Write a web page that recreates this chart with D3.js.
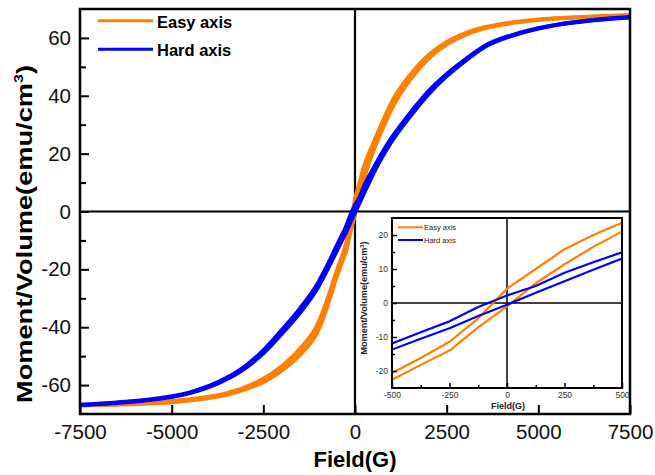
<!DOCTYPE html>
<html>
<head>
<meta charset="utf-8">
<script src="https://cdn.jsdelivr.net/npm/d3@7"></script>
<style>
  body { margin: 0; background: #fff; }
  svg text { font-family: "Liberation Sans", Arial, sans-serif; }
</style>
</head>
<body>
<div id="chart"></div>
<script>
// field values (G) shared by both loops
const fieldG = [-7500, -6500, -5500, -4500, -3500, -3000, -2500, -2000, -1500, -1000, -750,
  -500, -375, -250, -125, 0, 125, 250, 375, 500, 750, 1000, 1500, 2000, 2500, 3000, 3500,
  4500, 5500, 6500, 7500];

// descending branch (upper) and ascending branch (lower), emu/cm3
const easyUp = [-66.9, -66.6, -66.0, -64.9, -62.8, -60.8, -57.8, -53.5, -47.5, -38.5, -30.2,
  -20.6, -16.2, -11.4, -4.5, 4.2, 10, 15.8, 20, 23.6, 31, 37.8, 47.2, 54, 58.6, 61.6, 63.6,
  65.7, 66.8, 67.4, 67.8];
const easyDown = [-67.1, -66.8, -66.3, -65.3, -63.4, -61.5, -59, -55, -49.5, -41, -32.6,
  -22.6, -18.2, -14, -7.2, -1, 5.8, 11.4, 16.5, 21, 28.5, 35.5, 45.5, 52.8, 57.8, 61, 63.2,
  65.5, 66.7, 67.3, 67.8];
const hardUp = [-66.8, -66.0, -64.8, -62.5, -57.5, -53.5, -48, -41, -33.5, -24.5, -18.5,
  -11.9, -8.6, -5.4, -1.2, 2.2, 5, 8.9, 12, 14.9, 20.5, 25.5, 34, 41.5, 47.5, 52.5, 57,
  61.8, 64.6, 66.2, 67.2];
const hardDown = [-66.9, -66.2, -65.0, -62.8, -58, -54.2, -49, -42.3, -35, -26, -20,
  -13.7, -10.5, -7.4, -3.8, -0.5, 3, 6.4, 9.8, 13.1, 19, 24.2, 32.8, 40.5, 46.8, 52, 56.6,
  61.6, 64.5, 66.1, 67.1];

const seriesNames = ['Easy axis', 'Hard axis'];
const seriesColors = ['#ff8000', '#0000ff'];

const xTicks = [-7500, -5000, -2500, 0, 2500, 5000, 7500];
const yTicks = [-60, -40, -20, 0, 20, 40, 60];
const yMinor = [-50, -30, -10, 10, 30, 50];
const insetXTicks = [-500, -250, 0, 250, 500];
const insetXMinor = [-375, -125, 125, 375];
const insetYTicks = [-20, -10, 0, 10, 20];
const insetYMinor = [-15, -5, 5, 15];

// each branch as [H, M] pairs, with the series index kept for colour
const branches = [
  { s: 0, v: easyUp }, { s: 0, v: easyDown },
  { s: 1, v: hardUp }, { s: 1, v: hardDown }
].map(b => ({ s: b.s, pts: fieldG.map((h, i) => [h, b.v[i]]) }));

const svg = d3.select('#chart').append('svg')
  .attr('width', 655).attr('height', 475);

const fmt = d => String(d);

// ---------- main plot ----------
const x = d3.scaleLinear().domain([-7500, 7500]).range([80, 630]);
const y = d3.scaleLinear().domain([-70, 70]).range([414, 9]);

svg.append('clipPath').attr('id', 'clipMain')
  .append('rect').attr('x', 80).attr('y', 9).attr('width', 550).attr('height', 405);

svg.append('line').attr('x1', 80).attr('x2', 630).attr('y1', y(0)).attr('y2', y(0))
  .attr('stroke', '#000').attr('stroke-width', 2.2);
svg.append('line').attr('x1', x(0)).attr('x2', x(0)).attr('y1', 9).attr('y2', 414)
  .attr('stroke', '#000').attr('stroke-width', 2.2);

const line = d3.line().x(d => x(d[0])).y(d => y(d[1])).curve(d3.curveMonotoneX);
svg.append('g').attr('clip-path', 'url(#clipMain)')
  .selectAll('path').data(branches).enter().append('path')
  .attr('d', d => line(d.pts))
  .attr('fill', 'none')
  .attr('stroke', d => seriesColors[d.s])
  .attr('stroke-width', 4)
  .attr('stroke-linejoin', 'round');

const gx = svg.append('g').attr('transform', 'translate(0,414)')
  .call(d3.axisBottom(x).tickValues(xTicks).tickFormat(fmt).tickSize(-9).tickPadding(10));
const gy = svg.append('g').attr('transform', 'translate(80,0)')
  .call(d3.axisLeft(y).tickValues(yTicks).tickFormat(fmt).tickSize(-9).tickPadding(9));
const gym = svg.append('g').attr('transform', 'translate(80,0)')
  .call(d3.axisLeft(y).tickValues(yMinor).tickFormat('').tickSize(-6));
[gx, gy, gym].forEach(g => {
  g.select('.domain').remove();
  g.selectAll('.tick line').attr('stroke', '#000').attr('stroke-width', 2);
  g.selectAll('.tick text').style('font-size', '20.5px').attr('fill', '#111');
});

svg.append('rect').attr('x', 80).attr('y', 9).attr('width', 550).attr('height', 405)
  .attr('fill', 'none').attr('stroke', '#000').attr('stroke-width', 2.5);

svg.append('text').attr('x', 355).attr('y', 467).attr('text-anchor', 'middle')
  .style('font-size', '22px').style('font-weight', 'bold').text('Field(G)');

const yt = svg.append('text').attr('transform', 'translate(32,234) rotate(-90)')
  .attr('text-anchor', 'middle')
  .attr('textLength', 338).attr('lengthAdjust', 'spacingAndGlyphs')
  .style('font-size', '22px').style('font-weight', 'bold');
yt.append('tspan').text('Moment/Volume(emu/cm');
yt.append('tspan').attr('dy', -9).style('font-size', '13px').text('3');
yt.append('tspan').attr('dy', 9).text(')');

// main legend
seriesNames.forEach((name, i) => {
  const ly = 20.7 + i * 28.6;
  svg.append('line').attr('x1', 98).attr('x2', 153).attr('y1', ly).attr('y2', ly)
    .attr('stroke', seriesColors[i]).attr('stroke-width', 3);
  svg.append('text').attr('x', 157).attr('y', ly + 7).style('font-size', '16.5px')
    .style('font-weight', 'bold').text(name);
});

// ---------- inset ----------
const xi = d3.scaleLinear().domain([-500, 500]).range([392, 622]);
const yi = d3.scaleLinear().domain([-25, 25]).range([388, 218]);

svg.append('rect').attr('x', 392).attr('y', 218).attr('width', 230).attr('height', 170)
  .attr('fill', '#fff');
svg.append('clipPath').attr('id', 'clipInset')
  .append('rect').attr('x', 392).attr('y', 218).attr('width', 230).attr('height', 170);

svg.append('line').attr('x1', 392).attr('x2', 622).attr('y1', yi(0)).attr('y2', yi(0))
  .attr('stroke', '#000').attr('stroke-width', 1.5);
svg.append('line').attr('x1', xi(0)).attr('x2', xi(0)).attr('y1', 218).attr('y2', 388)
  .attr('stroke', '#000').attr('stroke-width', 1.5);

const lineI = d3.line().x(d => xi(d[0])).y(d => yi(d[1]));
svg.append('g').attr('clip-path', 'url(#clipInset)')
  .selectAll('path').data(branches).enter().append('path')
  .attr('d', d => lineI(d.pts))
  .attr('fill', 'none')
  .attr('stroke', d => seriesColors[d.s])
  .attr('stroke-width', 2.2)
  .attr('stroke-linejoin', 'round');

const ix = svg.append('g').attr('transform', 'translate(0,388)')
  .call(d3.axisBottom(xi).tickValues(insetXTicks).tickFormat(fmt).tickSize(-5).tickPadding(4));
const ixm = svg.append('g').attr('transform', 'translate(0,388)')
  .call(d3.axisBottom(xi).tickValues(insetXMinor).tickFormat('').tickSize(-3));
const iy = svg.append('g').attr('transform', 'translate(392,0)')
  .call(d3.axisLeft(yi).tickValues(insetYTicks).tickFormat(fmt).tickSize(-5).tickPadding(4));
const iym = svg.append('g').attr('transform', 'translate(392,0)')
  .call(d3.axisLeft(yi).tickValues(insetYMinor).tickFormat('').tickSize(-3));
[ix, ixm, iy, iym].forEach(g => {
  g.select('.domain').remove();
  g.selectAll('.tick line').attr('stroke', '#000').attr('stroke-width', 1.5);
  g.selectAll('.tick text').style('font-size', '8.5px').attr('fill', '#333');
});

svg.append('rect').attr('x', 392).attr('y', 218).attr('width', 230).attr('height', 170)
  .attr('fill', 'none').attr('stroke', '#000').attr('stroke-width', 2);

svg.append('text').attr('x', 508).attr('y', 409).attr('text-anchor', 'middle')
  .style('font-size', '9px').style('font-weight', 'bold').attr('fill', '#222').text('Field(G)');

const iyt = svg.append('text').attr('transform', 'translate(367,298) rotate(-90)')
  .attr('text-anchor', 'middle')
  .attr('textLength', 113).attr('lengthAdjust', 'spacingAndGlyphs')
  .style('font-size', '9px').style('font-weight', 'bold').attr('fill', '#222');
iyt.append('tspan').text('Moment/Volume(emu/cm');
iyt.append('tspan').attr('dy', -3.5).style('font-size', '5.5px').text('3');
iyt.append('tspan').attr('dy', 3.5).text(')');

seriesNames.forEach((name, i) => {
  const ly = 227.3 + i * 12.7;
  svg.append('line').attr('x1', 398).attr('x2', 423).attr('y1', ly).attr('y2', ly)
    .attr('stroke', seriesColors[i]).attr('stroke-width', 2);
  svg.append('text').attr('x', 424).attr('y', ly + 2.6).style('font-size', '7.5px')
    .attr('fill', '#222').text(name);
});
</script>
</body>
</html>
